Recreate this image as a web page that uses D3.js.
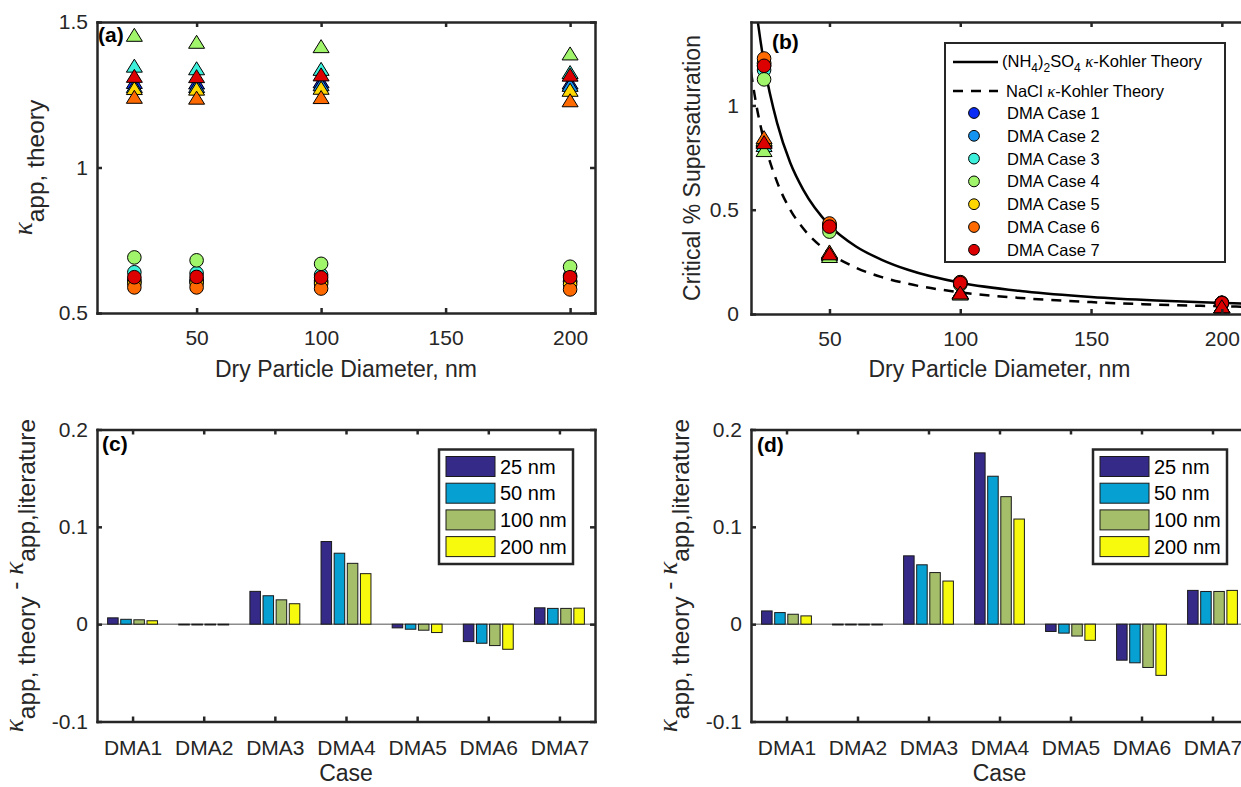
<!DOCTYPE html>
<html>
<head>
<meta charset="utf-8">
<script src="https://cdn.jsdelivr.net/npm/d3@7"></script>
<style>
  body { margin: 0; background: #fff; }
  svg { font-family: "Liberation Sans", Arial, Helvetica, sans-serif; }
  .ax path, .ax line { stroke: #262626; stroke-width: 2.5; }
  .ax text { fill: #262626; font-size: 21px; }
</style>
</head>
<body>
<div id="plot"></div>
<script>
const WIDTH = 1241, HEIGHT = 787;

// panel boxes
const PA = {left: 97, right: 595, top: 22, bottom: 313};
const PB = {left: 751, right: 1248, top: 22, bottom: 314};
const PC = {left: 97, right: 595, top: 429.5, bottom: 721.5};
const PD = {left: 751, right: 1248, top: 429.5, bottom: 721.5};

// data
const diameters = [25, 50, 100, 200];
const caseNames = ["DMA Case 1", "DMA Case 2", "DMA Case 3", "DMA Case 4", "DMA Case 5", "DMA Case 6", "DMA Case 7"];
const caseColors = ["#0a2cf5", "#1493f0", "#3cf0dc", "#a0f56a", "#ffd700", "#ff6a00", "#dc0000"];

// kappa app, theory, one row per case at 25/50/100/200 nm
const kappaAS = [
  [0.613, 0.613, 0.611, 0.610],
  [0.606, 0.608, 0.606, 0.607],
  [0.640, 0.637, 0.631, 0.628],
  [0.691, 0.681, 0.669, 0.659],
  [0.602, 0.603, 0.600, 0.598],
  [0.588, 0.588, 0.584, 0.581],
  [0.623, 0.624, 0.622, 0.623]
];
const kappaNaCl = [
  [1.294, 1.292, 1.296, 1.292],
  [1.280, 1.280, 1.286, 1.284],
  [1.350, 1.341, 1.339, 1.328],
  [1.456, 1.432, 1.417, 1.392],
  [1.273, 1.271, 1.274, 1.267],
  [1.243, 1.240, 1.242, 1.231],
  [1.315, 1.314, 1.320, 1.319]
];

// critical supersaturation (%)
const scAS = [
  [1.190, 0.420, 0.149, 0.053],
  [1.200, 0.425, 0.150, 0.053],
  [1.170, 0.415, 0.146, 0.052],
  [1.125, 0.395, 0.141, 0.050],
  [1.205, 0.427, 0.151, 0.053],
  [1.225, 0.434, 0.153, 0.054],
  [1.190, 0.419, 0.148, 0.052]
];
const scNaCl = [
  [0.830, 0.293, 0.104, 0.037],
  [0.835, 0.295, 0.104, 0.037],
  [0.810, 0.286, 0.101, 0.036],
  [0.786, 0.278, 0.098, 0.035],
  [0.838, 0.296, 0.105, 0.037],
  [0.848, 0.300, 0.106, 0.038],
  [0.824, 0.291, 0.103, 0.037]
];

// theory curves
const curveD = [20, 22, 25, 30, 35, 40, 50, 60, 70, 80, 100, 125, 150, 175, 200, 210];
const curveAS = [1.68, 1.46, 1.20, 0.915, 0.725, 0.595, 0.425, 0.325, 0.26, 0.212, 0.150, 0.108, 0.082, 0.065, 0.053, 0.049];
const curveNaCl = [1.16, 1.005, 0.83, 0.632, 0.50, 0.41, 0.293, 0.223, 0.177, 0.145, 0.104, 0.075, 0.057, 0.045, 0.037, 0.034];

// bar panels: kappa theory - kappa literature, one array per size
const barCats = ["DMA1", "DMA2", "DMA3", "DMA4", "DMA5", "DMA6", "DMA7"];
const sizeNames = ["25 nm", "50 nm", "100 nm", "200 nm"];
const sizeColors = ["#352a87", "#07a0d2", "#a5be6a", "#f8fa0d"];
const diffAS25 = [0.0065, 0, 0.0337, 0.0849, -0.0038, -0.0179, 0.0168];
const diffAS50 = [0.0050, 0, 0.0292, 0.0729, -0.0052, -0.0196, 0.0162];
const diffAS100 = [0.0045, 0, 0.0250, 0.0625, -0.0062, -0.0220, 0.0162];
const diffAS200 = [0.0035, 0, 0.0210, 0.0519, -0.0086, -0.0258, 0.0165];
const diffNaCl25 = [0.0136, 0, 0.0702, 0.1760, -0.0075, -0.0370, 0.0347];
const diffNaCl50 = [0.0119, 0, 0.0610, 0.1520, -0.0092, -0.0397, 0.0336];
const diffNaCl100 = [0.0102, 0, 0.0530, 0.1310, -0.0122, -0.0445, 0.0336];
const diffNaCl200 = [0.0085, 0, 0.0443, 0.1080, -0.0166, -0.0526, 0.0347];

const SVG = d3.select("#plot").append("svg")
    .attr("width", WIDTH)
    .attr("height", HEIGHT);

const triPath = "M0,-6.5L8,6.5L-8,6.5Z";

// box with inner ticks on all four sides, labels on bottom and left
function drawBox(P, x, y, xTicks, yTicks, xFmt, yFmt, xPad, yPad) {
  const g = SVG.append("g").attr("class", "ax");
  g.append("g").attr("transform", "translate(0," + P.bottom + ")")
    .call(d3.axisBottom(x).tickValues(xTicks).tickFormat(xFmt).tickSizeInner(-5).tickSizeOuter(0).tickPadding(xPad));
  g.append("g").attr("transform", "translate(0," + P.top + ")")
    .call(d3.axisTop(x).tickValues(xTicks).tickFormat("").tickSizeInner(-5).tickSizeOuter(0));
  g.append("g").attr("transform", "translate(" + P.left + ",0)")
    .call(d3.axisLeft(y).tickValues(yTicks).tickFormat(yFmt).tickSizeInner(-5).tickSizeOuter(0).tickPadding(yPad));
  g.append("g").attr("transform", "translate(" + P.right + ",0)")
    .call(d3.axisRight(y).tickValues(yTicks).tickFormat("").tickSizeInner(-5).tickSizeOuter(0));
  g.selectAll(".tick text").attr("font-family", null).attr("font-size", null);
  g.selectAll("path.domain").attr("stroke-linecap", "square");
  return g;
}

function panelLabel(txt, x, y) {
  SVG.append("text").attr("x", x).attr("y", y)
    .attr("font-size", 21).attr("font-weight", "bold").attr("fill", "#000")
    .text(txt);
}

function xTitle(txt, P, y) {
  SVG.append("text").attr("x", (P.left + P.right) / 2).attr("y", y)
    .attr("text-anchor", "middle").attr("font-size", 23).attr("fill", "#262626")
    .text(txt);
}

function kappaTitle(P, x, parts) {
  const t = SVG.append("text")
    .attr("transform", "translate(" + x + "," + (P.top + P.bottom) / 2 + ") rotate(-90)")
    .attr("text-anchor", "middle").attr("fill", "#262626");
  parts.forEach(p => {
    const s = t.append("tspan").text(p.t).attr("font-size", p.k ? 27 : 24.5);
    if (p.k) s.attr("font-family", "Liberation Serif, serif").attr("font-style", "italic");
    if (p.dy) s.attr("dy", p.dy);
  });
}

// ---------- panel (a)
const XA = d3.scaleLinear().domain([10, 210]).range([PA.left, PA.right]);
const YA = d3.scaleLinear().domain([0.5, 1.5]).range([PA.bottom, PA.top]);

caseNames.forEach((c, i) => {
  SVG.selectAll(null).data(diameters).enter().append("circle")
    .attr("cx", d => XA(d))
    .attr("cy", (d, j) => YA(kappaAS[i][j]))
    .attr("r", 6.8)
    .attr("fill", caseColors[i]).attr("stroke", "#000").attr("stroke-width", 1);
});
caseNames.forEach((c, i) => {
  SVG.selectAll(null).data(diameters).enter().append("path")
    .attr("d", triPath)
    .attr("transform", (d, j) => "translate(" + XA(d) + "," + YA(kappaNaCl[i][j]) + ")")
    .attr("fill", caseColors[i]).attr("stroke", "#000").attr("stroke-width", 1);
});
drawBox(PA, XA, YA, [50, 100, 150, 200], [0.5, 1, 1.5], d3.format("d"), d => String(d), 17, 9);
panelLabel("(a)", 98, 42);
xTitle("Dry Particle Diameter, nm", PA, 377);
kappaTitle(PA, 32, [{t: "κ", k: true}, {t: "app, theory", dy: 12}]);

// ---------- panel (b)
const XB = d3.scaleLinear().domain([20, 210]).range([PB.left, PB.right]);
const YB = d3.scaleLinear().domain([0, 1.4]).range([PB.bottom, PB.top]);

SVG.append("clipPath").attr("id", "clipB").append("rect")
  .attr("x", PB.left).attr("y", PB.top)
  .attr("width", PB.right - PB.left).attr("height", PB.bottom - PB.top);

const lineB = d3.line().x(d => XB(d[0])).y(d => YB(d[1])).curve(d3.curveMonotoneX);
const gCurves = SVG.append("g").attr("clip-path", "url(#clipB)");
gCurves.append("path").attr("d", lineB(d3.zip(curveD, curveAS)))
  .attr("fill", "none").attr("stroke", "#000").attr("stroke-width", 2.5);
gCurves.append("path").attr("d", lineB(d3.zip(curveD, curveNaCl)))
  .attr("fill", "none").attr("stroke", "#000").attr("stroke-width", 2.5)
  .attr("stroke-dasharray", "10,8");

caseNames.forEach((c, i) => {
  SVG.selectAll(null).data(diameters).enter().append("circle")
    .attr("cx", d => XB(d))
    .attr("cy", (d, j) => YB(scAS[i][j]))
    .attr("r", 6.8)
    .attr("fill", caseColors[i]).attr("stroke", "#000").attr("stroke-width", 1);
  SVG.selectAll(null).data(diameters).enter().append("path")
    .attr("d", triPath)
    .attr("transform", (d, j) => "translate(" + XB(d) + "," + YB(scNaCl[i][j]) + ")")
    .attr("fill", caseColors[i]).attr("stroke", "#000").attr("stroke-width", 1);
});
drawBox(PB, XB, YB, [50, 100, 150, 200], [0, 0.5, 1], d3.format("d"), d => String(d), 17, 12);
panelLabel("(b)", 772, 49);
xTitle("Dry Particle Diameter, nm", PB, 377);
SVG.append("text")
  .attr("transform", "translate(700," + (PB.top + PB.bottom) / 2 + ") rotate(-90)")
  .attr("text-anchor", "middle").attr("font-size", 23).attr("fill", "#262626")
  .text("Critical % Supersaturation");

// legend (b)
const LB = SVG.append("g");
LB.append("rect").attr("x", 945).attr("y", 43).attr("width", 280).attr("height", 219)
  .attr("fill", "#fff").attr("stroke", "#262626").attr("stroke-width", 2);
LB.append("line").attr("x1", 953).attr("x2", 998).attr("y1", 62).attr("y2", 62)
  .attr("stroke", "#000").attr("stroke-width", 2.5);
LB.append("line").attr("x1", 953).attr("x2", 998).attr("y1", 91).attr("y2", 91)
  .attr("stroke", "#000").attr("stroke-width", 2.5).attr("stroke-dasharray", "10,8");
const t1 = LB.append("text").attr("x", 1002).attr("y", 67).attr("font-size", 16.5).attr("fill", "#000");
[["(NH", 0], ["4", 5], [")", -5], ["2", 5], ["SO", -5], ["4", 5], [" ", -5]].forEach(p => {
  const s = t1.append("tspan").text(p[0]).attr("dy", p[1]);
  if (p[1] > 0) s.attr("font-size", 12);
});
t1.append("tspan").text("κ").attr("font-family", "Liberation Serif, serif").attr("font-style", "italic");
t1.append("tspan").text("-Kohler Theory");
const t2 = LB.append("text").attr("x", 1006).attr("y", 97).attr("font-size", 16.5).attr("fill", "#000");
t2.append("tspan").text("NaCl ");
t2.append("tspan").text("κ").attr("font-family", "Liberation Serif, serif").attr("font-style", "italic");
t2.append("tspan").text("-Kohler Theory");
caseNames.forEach((c, i) => {
  const yy = 113 + i * 22.8;
  LB.append("circle").attr("cx", 974).attr("cy", yy).attr("r", 5.4)
    .attr("fill", caseColors[i]).attr("stroke", "#000").attr("stroke-width", 1);
  LB.append("text").attr("x", 1007).attr("y", yy + 6).attr("font-size", 16.5).attr("fill", "#000").text(c);
});

// ---------- bar panels
function barPanel(P, series, label, labelX, labelY, titleX, legendX) {
  const x = d3.scaleLinear().domain([0.5, 7.5]).range([P.left, P.right]);
  const y = d3.scaleLinear().domain([-0.1, 0.2]).range([P.bottom, P.top]);
  const step = 0.1845, bw = x(1.148) - x(1);

  SVG.append("line").attr("x1", P.left).attr("x2", P.right)
    .attr("y1", y(0)).attr("y2", y(0)).attr("stroke", "#8c8c8c").attr("stroke-width", 1.5);

  series.forEach((vals, j) => {
    SVG.selectAll(null).data(vals).enter().append("rect")
      .attr("x", (d, i) => x(i + 1 + (j - 1.5) * step) - bw / 2)
      .attr("y", d => y(Math.max(d, 0)))
      .attr("width", bw)
      .attr("height", d => Math.max(Math.abs(y(d) - y(0)), 0.8))
      .attr("fill", sizeColors[j]).attr("stroke", "#1a1a1a").attr("stroke-width", 1);
  });

  drawBox(P, x, y, d3.range(1, 8), [-0.1, 0, 0.1, 0.2], d => barCats[d - 1], d => String(d), 19, 9);
  panelLabel(label, labelX, labelY);
  xTitle("Case", P, 781);
  kappaTitle(P, titleX, [
    {t: "κ", k: true}, {t: "app, theory", dy: 12}, {t: " - ", dy: -12},
    {t: "κ", k: true}, {t: "app,literature", dy: 12}
  ]);

  const L = SVG.append("g");
  L.append("rect").attr("x", legendX).attr("y", P.top + 20).attr("width", 134).attr("height", 114.5)
    .attr("fill", "#fff").attr("stroke", "#262626").attr("stroke-width", 2.5);
  sizeNames.forEach((s, j) => {
    const yy = P.top + 27 + j * 26.7;
    L.append("rect").attr("x", legendX + 7).attr("y", yy).attr("width", 49).attr("height", 20)
      .attr("fill", sizeColors[j]).attr("stroke", "#1a1a1a").attr("stroke-width", 1);
    L.append("text").attr("x", legendX + 61).attr("y", yy + 17).attr("font-size", 20).attr("fill", "#000").text(s);
  });
}

barPanel(PC, [diffAS25, diffAS50, diffAS100, diffAS200], "(c)", 102, 451, 23, 439);
barPanel(PD, [diffNaCl25, diffNaCl50, diffNaCl100, diffNaCl200], "(d)", 757, 452, 677, 1093);
</script>
</body>
</html>
